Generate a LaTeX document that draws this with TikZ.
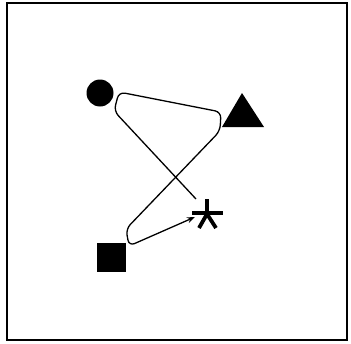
\documentclass[tikz,border=0pt]{standalone}
\usetikzlibrary{arrows.meta}
\begin{document}
\begin{tikzpicture}[x=1pt,y=-1pt,
  shapefill/.style={fill=black,draw=none},
  route/.style={line width=1.3pt,rounded corners=6pt},
  star/.style={line width=3.8pt}]
\useasboundingbox (0,0) rectangle (351,343);
\draw[line width=1.2pt] (7,3) rectangle (347,340);
% objects
\node[shapefill,circle,minimum size=27pt,inner sep=0pt] (circ) at (100,93) {};
\node[shapefill,rectangle,minimum size=29pt,inner sep=0pt] (sq) at (111.5,257.5) {};
\fill (242,93) -- (222,127) -- (264,127) -- cycle;
\coordinate (tri) at (243,115);
% asterisk
\coordinate (ast) at (207,214);
\draw[star] (ast) -- (207,199);
\draw[star] (192,213) -- (223,213);
\draw[star] (ast) -- (199,228);
\draw[star] (ast) -- (216,228);
% route
\coordinate (p0) at (196,199);
\coordinate (p1) at (114,111);
\coordinate (p2) at (119,92);
\coordinate (p3) at (221,112);
\coordinate (p4) at (220,131);
\coordinate (p5) at (126,229);
\coordinate (p6) at (129,246);
\coordinate (p7) at (195,217);
\draw[route,-{Stealth[length=8pt,width=6pt]}] (p0) -- (p1) -- (p2) -- (p3) -- (p4) -- (p5) -- (p6) -- (p7);
\end{tikzpicture}
\end{document}
